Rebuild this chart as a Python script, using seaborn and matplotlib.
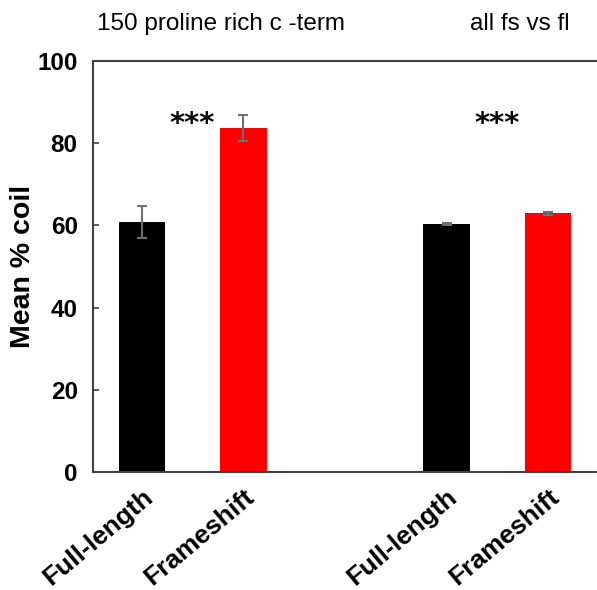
import matplotlib
matplotlib.use("Agg")
import matplotlib.pyplot as plt
import seaborn as sns
import pandas as pd

# Mean % coil per construct, two comparisons
categories = ["Full-length", "Frameshift", "Full-length", "Frameshift"]
positions = [0, 1, 3, 4]
mean_coil = [60.8, 83.7, 60.4, 62.9]
sem_coil = [3.9, 3.1, 0.25, 0.25]
panel_titles = ["150 proline rich c -term", "all fs vs fl"]
star_positions = [0.5, 3.5]
star_labels = ["***", "***"]
y_ticks = [0, 20, 40, 60, 80, 100]

sns.set_theme(style="white")
plt.rcParams["font.family"] = ["Liberation Sans", "DejaVu Sans"]
plt.rcParams["text.color"] = "black"

df = pd.DataFrame({"pos": positions, "coil": mean_coil, "construct": categories})

fig = plt.figure(figsize=(5.97, 5.90), dpi=100)
ax = fig.add_axes([93 / 597, 1 - 472 / 590, 1 - 93 / 597, (472 - 61) / 590])

sns.barplot(data=df, x="pos", y="coil", hue="construct", native_scale=True,
            palette={"Full-length": "black", "Frameshift": "#ff0000"},
            saturation=1, dodge=False, width=0.455, errorbar=None, legend=False,
            edgecolor="none", ax=ax)

ax.errorbar(positions, mean_coil, yerr=sem_coil, fmt="none",
            ecolor="#707070", elinewidth=1.5, capsize=3.5, capthick=1.5, zorder=5)

for xp, lab in zip(star_positions, star_labels):
    ax.text(xp, 84.7, lab, ha="center", va="center", fontsize=21,
            fontweight="bold", color="black", family="DejaVu Sans")

ax.set_xlim(-0.48, 4.48)
ax.set_ylim(0, 100)
ax.set_yticks(y_ticks)
ax.set_yticklabels([str(t) for t in y_ticks], fontsize=17.5, fontweight="bold",
                   color="black")
ax.set_xticks(positions)
ax.set_xticklabels(categories, fontsize=19, fontweight="bold", rotation=40,
                   ha="right", va="top", rotation_mode="anchor", color="black")
ax.tick_params(axis="y", direction="in", length=4, width=1.2, color="#404040",
               left=True, pad=11)
ax.tick_params(axis="x", length=0, pad=9)
ax.set_xlabel("")
ax.set_ylabel("Mean % coil", fontsize=20.5, fontweight="bold", labelpad=1,
              color="black")

for side in ["left", "bottom", "top"]:
    ax.spines[side].set_color("#404040")
    ax.spines[side].set_linewidth(1.5)
ax.spines["right"].set_visible(False)

fig.text(221 / 597, 1 - 24 / 590, panel_titles[0], ha="center", va="center",
         fontsize=17.5, color="black")
fig.text(520 / 597, 1 - 24 / 590, panel_titles[1], ha="center", va="center",
         fontsize=17.5, color="black")

fig.savefig("out.png", dpi=100)
